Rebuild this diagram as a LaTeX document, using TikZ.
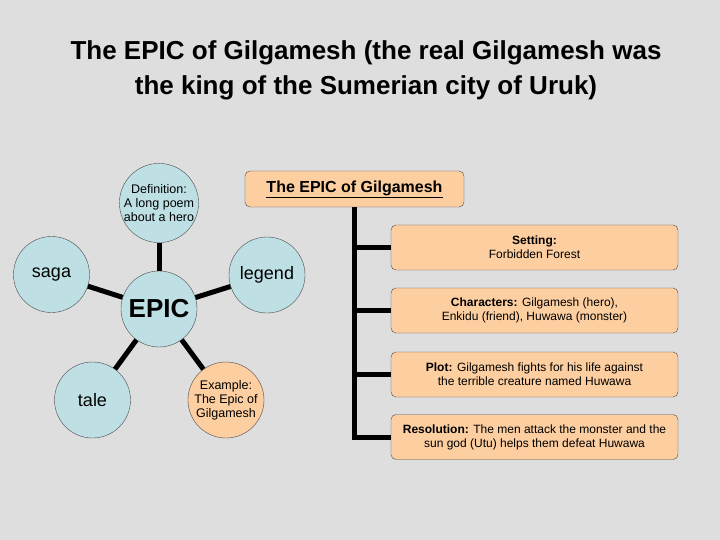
\documentclass[tikz,border=0pt]{standalone}
\usepackage{fontspec}
\setmainfont{Liberation Sans}
\usetikzlibrary{positioning}

\definecolor{slidegray}{RGB}{222,222,222}
\definecolor{epicblue}{RGB}{190,224,228}
\definecolor{epicorange}{RGB}{253,206,160}

\tikzset{
    bubble/.style={circle, draw=black!70, fill=epicblue, minimum size=76pt, inner sep=0pt, align=center, font=\fontsize{12.5}{14}\selectfont},
    word/.style={font=\fontsize{18}{20}\selectfont},
    spoke/.style={line width=5pt, black},
    card/.style={draw=black!70, fill=epicorange, rounded corners=5pt, minimum width=287pt, minimum height=45pt, align=center, inner sep=2pt, font=\fontsize{12}{14}\selectfont},
}

\begin{document}
\begin{tikzpicture}[x=1pt, y=-1pt]
    % Background
    \fill[slidegray] (0,0) rectangle (720,540);
    \useasboundingbox (0,0) rectangle (720,540);

    \node[align=center, font=\fontsize{26}{35}\selectfont\bfseries] (title) at (366,70) {The EPIC of Gilgamesh (the real Gilgamesh was\\the king of the Sumerian city of Uruk)};

    % web
    \node[bubble, font=\fontsize{26}{28}\selectfont\bfseries] (epic) at (159,309) {EPIC};
    \node[bubble] (def) at (159,203) {Definition:\\A long poem\\about a hero};
    \node[bubble, word] (saga) at (51.5,274.5) {saga};
    \node[bubble, word] (legend) at (267,275) {legend};
    \node[bubble, word] (tale) at (92.5,400) {tale};
    \node[bubble, fill=epicorange] (example) at (226,400) {Example:\\The Epic of\\Gilgamesh};

\foreach \n in {def, saga, legend, tale, example}
  \draw[spoke] (epic) -- (\n);

    % tree
    \node[card, minimum width=219pt, minimum height=36pt, font=\fontsize{16}{18}\selectfont\bfseries] (gil) at (354.5,189) {\underline{The EPIC of Gilgamesh}};
    \node[card] (setting) at (534.5,247.5) {\textbf{Setting:}\\Forbidden Forest};
    \node[card] (chars) at (534.5,310.5) {\textbf{Characters:} Gilgamesh (hero),\\Enkidu (friend), Huwawa (monster)};
    \node[card] (plot) at (534.5,374.5) {\textbf{Plot:} Gilgamesh fights for his life against\\the terrible creature named Huwawa};
    \node[card] (res) at (534.5,437) {\textbf{Resolution:} The men attack the monster and the\\sun god (Utu) helps them defeat Huwawa};

    \draw[spoke] (gil.south) |- (res.west);
\foreach \n in {setting, chars, plot}
  \draw[spoke] (gil.south |- \n.west) -- (\n.west);

  \end{tikzpicture}
\end{document}
